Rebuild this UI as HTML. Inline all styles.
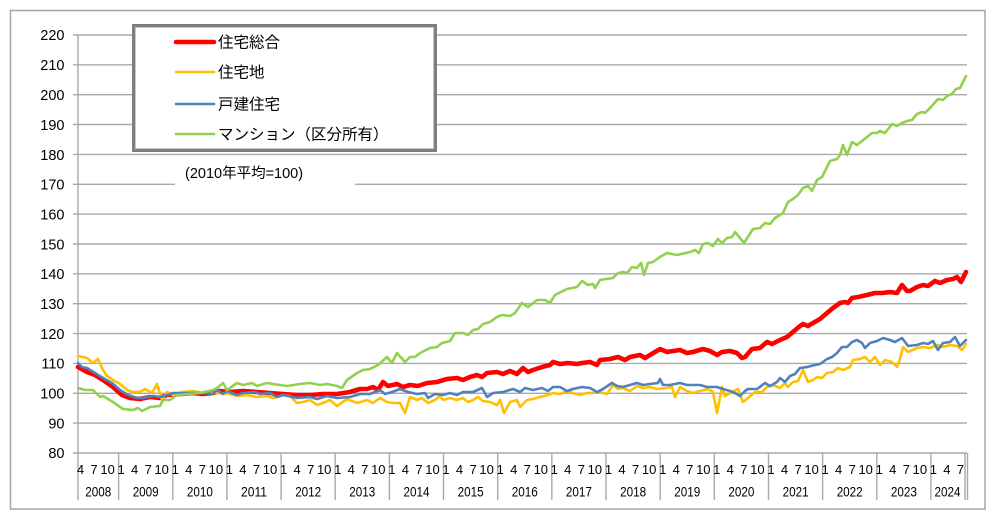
<!DOCTYPE html>
<html><head><meta charset="utf-8"><style>
html,body{margin:0;padding:0;background:#fff;}
svg{display:block;}
text{font-family:"Liberation Sans","Noto Sans CJK JP",sans-serif;fill:#000;}
</style></head><body>
<svg width="1000" height="525" viewBox="0 0 1000 525" xmlns="http://www.w3.org/2000/svg">
<rect x="0" y="0" width="1000" height="525" fill="#fff"/>
<rect x="10.5" y="10.5" width="974.5" height="498.5" fill="none" stroke="#a6a6a6" stroke-width="1.5"/>
<g stroke="#a9a9a9" stroke-width="1.4">
<line x1="73" y1="35" x2="967" y2="35"/>
<line x1="73" y1="64.8" x2="967" y2="64.8"/>
<line x1="73" y1="94.7" x2="967" y2="94.7"/>
<line x1="73" y1="124.5" x2="967" y2="124.5"/>
<line x1="73" y1="154.4" x2="967" y2="154.4"/>
<line x1="73" y1="184.3" x2="967" y2="184.3"/>
<line x1="73" y1="214.1" x2="967" y2="214.1"/>
<line x1="73" y1="244" x2="967" y2="244"/>
<line x1="73" y1="273.8" x2="967" y2="273.8"/>
<line x1="73" y1="303.7" x2="967" y2="303.7"/>
<line x1="73" y1="333.6" x2="967" y2="333.6"/>
<line x1="73" y1="363.4" x2="967" y2="363.4"/>
<line x1="73" y1="393.3" x2="967" y2="393.3"/>
<line x1="73" y1="423.1" x2="967" y2="423.1"/>
<line x1="73" y1="453" x2="967" y2="453"/>
<line x1="78" y1="35" x2="78" y2="500"/>
<line x1="118.6" y1="453" x2="118.6" y2="500"/>
<line x1="172.8" y1="453" x2="172.8" y2="500"/>
<line x1="226.9" y1="453" x2="226.9" y2="500"/>
<line x1="281.1" y1="453" x2="281.1" y2="500"/>
<line x1="335.2" y1="453" x2="335.2" y2="500"/>
<line x1="389.4" y1="453" x2="389.4" y2="500"/>
<line x1="443.5" y1="453" x2="443.5" y2="500"/>
<line x1="497.7" y1="453" x2="497.7" y2="500"/>
<line x1="551.8" y1="453" x2="551.8" y2="500"/>
<line x1="606" y1="453" x2="606" y2="500"/>
<line x1="660.2" y1="453" x2="660.2" y2="500"/>
<line x1="714.3" y1="453" x2="714.3" y2="500"/>
<line x1="768.5" y1="453" x2="768.5" y2="500"/>
<line x1="822.6" y1="453" x2="822.6" y2="500"/>
<line x1="876.8" y1="453" x2="876.8" y2="500"/>
<line x1="930.9" y1="453" x2="930.9" y2="500"/>
<line x1="965" y1="453" x2="965" y2="500"/>
<line x1="967.5" y1="453" x2="967.5" y2="500"/>
</g>
<g font-size="14.5" text-anchor="end">
<text x="64.5" y="40">220</text>
<text x="64.5" y="70">210</text>
<text x="64.5" y="100">200</text>
<text x="64.5" y="130">190</text>
<text x="64.5" y="160">180</text>
<text x="64.5" y="189.5">170</text>
<text x="64.5" y="219.5">160</text>
<text x="64.5" y="249.5">150</text>
<text x="64.5" y="279">140</text>
<text x="64.5" y="309">130</text>
<text x="64.5" y="339">120</text>
<text x="64.5" y="368.5">110</text>
<text x="64.5" y="398.5">100</text>
<text x="64.5" y="428.5">90</text>
<text x="64.5" y="458">80</text>
</g>
<!-- series -->
<g fill="none" stroke-linejoin="round" stroke-linecap="round">
<polyline stroke="#ff0000" stroke-width="4.6" points="78,367 87,372 95,375 103,380 113,387 122,395 130,398 140,399 150,397 160,398 167,395 180,394 193,393 203,394 213,393 220,391 230,392 243,391 257,392 270,393 283,394 297,395 310,395 323,394 337,394 350,392 360,389 367,389 373,387 378,390 383,382 388,386 397,384 403,387 410,385 418,386 427,383 437,382 447,379 457,378 463,380 470,377 477,375 482,377 487,373 497,372 503,374 510,371 517,374 523,368 528,372 533,370 542,367 550,365 553,362 560,364 568,363 577,364 582,363 590,362 597,365 600,360 610,359 618,357 625,360 630,357 640,355 645,358 650,355 660,349 667,352 673,351 680,350 687,353 693,352 703,349 710,351 717,355 722,352 730,351 737,353 742,358 745,357 752,349 760,348 767,342 772,344 780,340 787,337 793,332 800,326 803,324 808,326 813,323 820,319 827,313 833,308 840,303 845,302 848,303 852,298 858,297 867,295 875,293 882,293 890,292 897,293 902,285 907,291 910,291 917,287 923,285 928,286 935,281 940,283 947,280 953,279 957,277 961,282 966,272"/>
<polyline stroke="#ffc000" stroke-width="2.6" points="78,356 87,358 93,363 98,359 103,370 107,376 113,380 120,384 127,390 133,392 140,392 145,389 152,393 157,384 162,400 167,392 173,395 183,392 193,391 203,393 217,393 230,394 237,396 247,395 257,397 267,396 273,398 283,395 290,396 297,403 303,402 310,400 317,405 323,403 330,400 337,406 347,399 357,403 367,400 373,403 380,398 387,402 393,403 400,403 405,413 410,397 417,400 422,398 428,403 435,400 440,396 443,400 450,398 457,400 463,398 468,402 473,400 478,397 483,401 490,402 497,405 500,400 504,413 510,402 517,400 520,407 527,400 533,399 540,397 548,395 553,393 560,394 567,391 573,393 580,395 587,393 593,393 600,392 607,394 613,385 618,389 623,388 630,391 637,386 643,388 650,387 657,389 667,388 672,387 675,397 680,387 687,391 693,393 700,391 708,389 713,392 717,413 722,387 725,396 730,393 738,389 743,402 748,398 755,392 762,392 767,387 773,385 780,388 785,383 788,387 793,382 798,381 803,370 808,382 813,380 817,377 822,378 827,373 833,372 838,368 843,370 850,367 853,360 860,359 865,357 870,362 875,357 880,365 885,360 892,362 897,367 900,359 903,347 908,352 917,348 923,347 930,348 938,345 943,347 950,345 957,346 962,350 966,344"/>
<polyline stroke="#4f81bd" stroke-width="2.6" points="78,363 82,367 87,368 95,373 103,378 112,383 120,390 128,395 137,398 143,398 153,396 160,397 167,395 173,393 187,393 203,393 213,394 217,390 223,394 227,391 237,395 243,393 255,392 260,394 270,393 277,397 283,395 297,398 310,397 317,399 327,396 337,398 350,397 360,394 370,394 380,390 385,394 392,392 400,389 408,392 417,394 425,393 428,398 435,394 443,395 450,393 457,395 463,392 473,392 482,388 487,397 493,393 503,392 513,389 520,392 525,388 533,390 542,388 548,391 553,387 560,387 567,391 573,389 582,387 590,388 597,392 603,389 612,383 617,386 623,387 630,385 637,383 643,385 650,384 658,383 660,379 663,385 670,385 680,383 687,385 700,385 707,387 717,387 723,389 730,391 735,393 740,396 745,391 748,389 757,389 765,383 770,386 777,382 780,378 785,382 790,376 795,374 800,368 807,367 815,365 820,364 827,359 832,357 837,353 842,347 847,347 852,342 857,340 862,343 865,348 870,343 877,341 883,338 890,340 895,342 902,338 908,346 917,345 923,343 928,344 933,341 938,350 943,343 950,342 955,337 960,346 966,340"/>
<polyline stroke="#92d050" stroke-width="2.6" points="78,388 85,390 93,390 100,397 103,396 113,402 123,409 133,410 138,408 142,411 150,407 160,406 163,400 170,400 177,395 187,394 200,393 213,390 217,388 223,383 227,390 237,383 243,385 252,383 257,386 267,383 273,384 287,386 300,384 310,383 320,385 327,384 337,386 342,388 347,380 357,373 363,370 370,369 378,365 387,357 392,363 397,353 405,362 410,357 415,357 420,353 430,348 437,347 442,343 450,341 455,333 463,333 468,335 473,330 478,329 483,324 490,322 497,317 502,315 510,316 515,313 522,303 528,307 537,300 545,300 550,303 555,295 567,289 577,287 582,281 588,285 593,284 595,288 600,280 613,278 618,273 623,272 627,273 632,267 637,268 641,263 644,275 648,263 653,262 660,257 667,253 677,255 690,252 695,250 699,253 703,244 708,243 713,246 718,239 722,243 727,238 732,237 735,232 740,238 744,243 753,229 760,228 765,223 770,224 775,218 783,213 788,202 793,199 798,195 803,188 808,186 812,191 817,180 822,177 830,161 837,159 840,155 843,145 847,155 852,142 857,145 862,141 867,137 872,133 877,133 880,131 885,133 892,124 897,126 902,123 907,121 912,120 917,114 922,112 925,113 930,108 938,99 943,100 947,96 952,94 956,89 960,88 966,76"/>
</g>
<!-- base note -->
<rect x="175" y="160" width="180" height="28" fill="#fff"/>
<text x="185" y="178" font-size="14.5">(2010年平均=100)</text>
<!-- legend -->
<rect x="133.5" y="25.5" width="302" height="125" fill="#fff" stroke="#7f7f7f" stroke-width="3"/>
<rect x="135.5" y="27.5" width="298" height="121" fill="none" stroke="#c8c8c8" stroke-width="1"/>
<line x1="176" y1="42" x2="214" y2="42" stroke="#ff0000" stroke-width="4.5" stroke-linecap="round"/>
<line x1="176" y1="72" x2="214" y2="72" stroke="#ffc000" stroke-width="2.6" stroke-linecap="round"/>
<line x1="176" y1="104" x2="214" y2="104" stroke="#4f81bd" stroke-width="2.6" stroke-linecap="round"/>
<line x1="176" y1="134" x2="214" y2="134" stroke="#92d050" stroke-width="2.6" stroke-linecap="round"/>
<g font-size="15.5">
<text x="218" y="47.5">住宅総合</text>
<text x="218" y="77.5">住宅地</text>
<text x="218" y="109.5">戸建住宅</text>
<text x="218" y="139.5">マンション（区分所有）</text>
</g>
<!-- x labels -->
<g font-size="13" text-anchor="middle">
<text x="80.5" y="474">4</text><text x="94" y="474">7</text><text x="107.6" y="474">10</text>
<text x="121.1" y="474">1</text><text x="134.6" y="474">4</text><text x="148.2" y="474">7</text><text x="161.7" y="474">10</text>
<text x="175.3" y="474">1</text><text x="188.8" y="474">4</text><text x="202.4" y="474">7</text><text x="215.9" y="474">10</text>
<text x="229.4" y="474">1</text><text x="242.9" y="474">4</text><text x="256.5" y="474">7</text><text x="270" y="474">10</text>
<text x="283.6" y="474">1</text><text x="297.1" y="474">4</text><text x="310.7" y="474">7</text><text x="324.2" y="474">10</text>
<text x="337.7" y="474">1</text><text x="351.2" y="474">4</text><text x="364.8" y="474">7</text><text x="378.3" y="474">10</text>
<text x="391.9" y="474">1</text><text x="405.4" y="474">4</text><text x="419" y="474">7</text><text x="432.5" y="474">10</text>
<text x="446" y="474">1</text><text x="459.5" y="474">4</text><text x="473.1" y="474">7</text><text x="486.6" y="474">10</text>
<text x="500.2" y="474">1</text><text x="513.7" y="474">4</text><text x="527.3" y="474">7</text><text x="540.8" y="474">10</text>
<text x="554.3" y="474">1</text><text x="567.8" y="474">4</text><text x="581.4" y="474">7</text><text x="594.9" y="474">10</text>
<text x="608.5" y="474">1</text><text x="622" y="474">4</text><text x="635.6" y="474">7</text><text x="649.1" y="474">10</text>
<text x="662.7" y="474">1</text><text x="676.2" y="474">4</text><text x="689.8" y="474">7</text><text x="703.3" y="474">10</text>
<text x="716.8" y="474">1</text><text x="730.3" y="474">4</text><text x="743.9" y="474">7</text><text x="757.4" y="474">10</text>
<text x="771" y="474">1</text><text x="784.5" y="474">4</text><text x="798.1" y="474">7</text><text x="811.6" y="474">10</text>
<text x="825.1" y="474">1</text><text x="838.6" y="474">4</text><text x="852.2" y="474">7</text><text x="865.7" y="474">10</text>
<text x="879.3" y="474">1</text><text x="892.8" y="474">4</text><text x="906.4" y="474">7</text><text x="919.9" y="474">10</text>
<text x="933.4" y="474">1</text><text x="946.9" y="474">4</text><text x="960.5" y="474">7</text>
</g>
<g font-size="14" text-anchor="middle">
<text x="98.3" y="496.5" textLength="26" lengthAdjust="spacingAndGlyphs">2008</text>
<text x="145.7" y="496.5" textLength="26" lengthAdjust="spacingAndGlyphs">2009</text>
<text x="199.9" y="496.5" textLength="26" lengthAdjust="spacingAndGlyphs">2010</text>
<text x="254" y="496.5" textLength="26" lengthAdjust="spacingAndGlyphs">2011</text>
<text x="308.2" y="496.5" textLength="26" lengthAdjust="spacingAndGlyphs">2012</text>
<text x="362.3" y="496.5" textLength="26" lengthAdjust="spacingAndGlyphs">2013</text>
<text x="416.5" y="496.5" textLength="26" lengthAdjust="spacingAndGlyphs">2014</text>
<text x="470.6" y="496.5" textLength="26" lengthAdjust="spacingAndGlyphs">2015</text>
<text x="524.8" y="496.5" textLength="26" lengthAdjust="spacingAndGlyphs">2016</text>
<text x="578.9" y="496.5" textLength="26" lengthAdjust="spacingAndGlyphs">2017</text>
<text x="633.1" y="496.5" textLength="26" lengthAdjust="spacingAndGlyphs">2018</text>
<text x="687.3" y="496.5" textLength="26" lengthAdjust="spacingAndGlyphs">2019</text>
<text x="741.4" y="496.5" textLength="26" lengthAdjust="spacingAndGlyphs">2020</text>
<text x="795.6" y="496.5" textLength="26" lengthAdjust="spacingAndGlyphs">2021</text>
<text x="849.7" y="496.5" textLength="26" lengthAdjust="spacingAndGlyphs">2022</text>
<text x="903.9" y="496.5" textLength="26" lengthAdjust="spacingAndGlyphs">2023</text>
<text x="947.5" y="496.5" textLength="26" lengthAdjust="spacingAndGlyphs">2024</text>
</g>
</svg>
</body></html>
